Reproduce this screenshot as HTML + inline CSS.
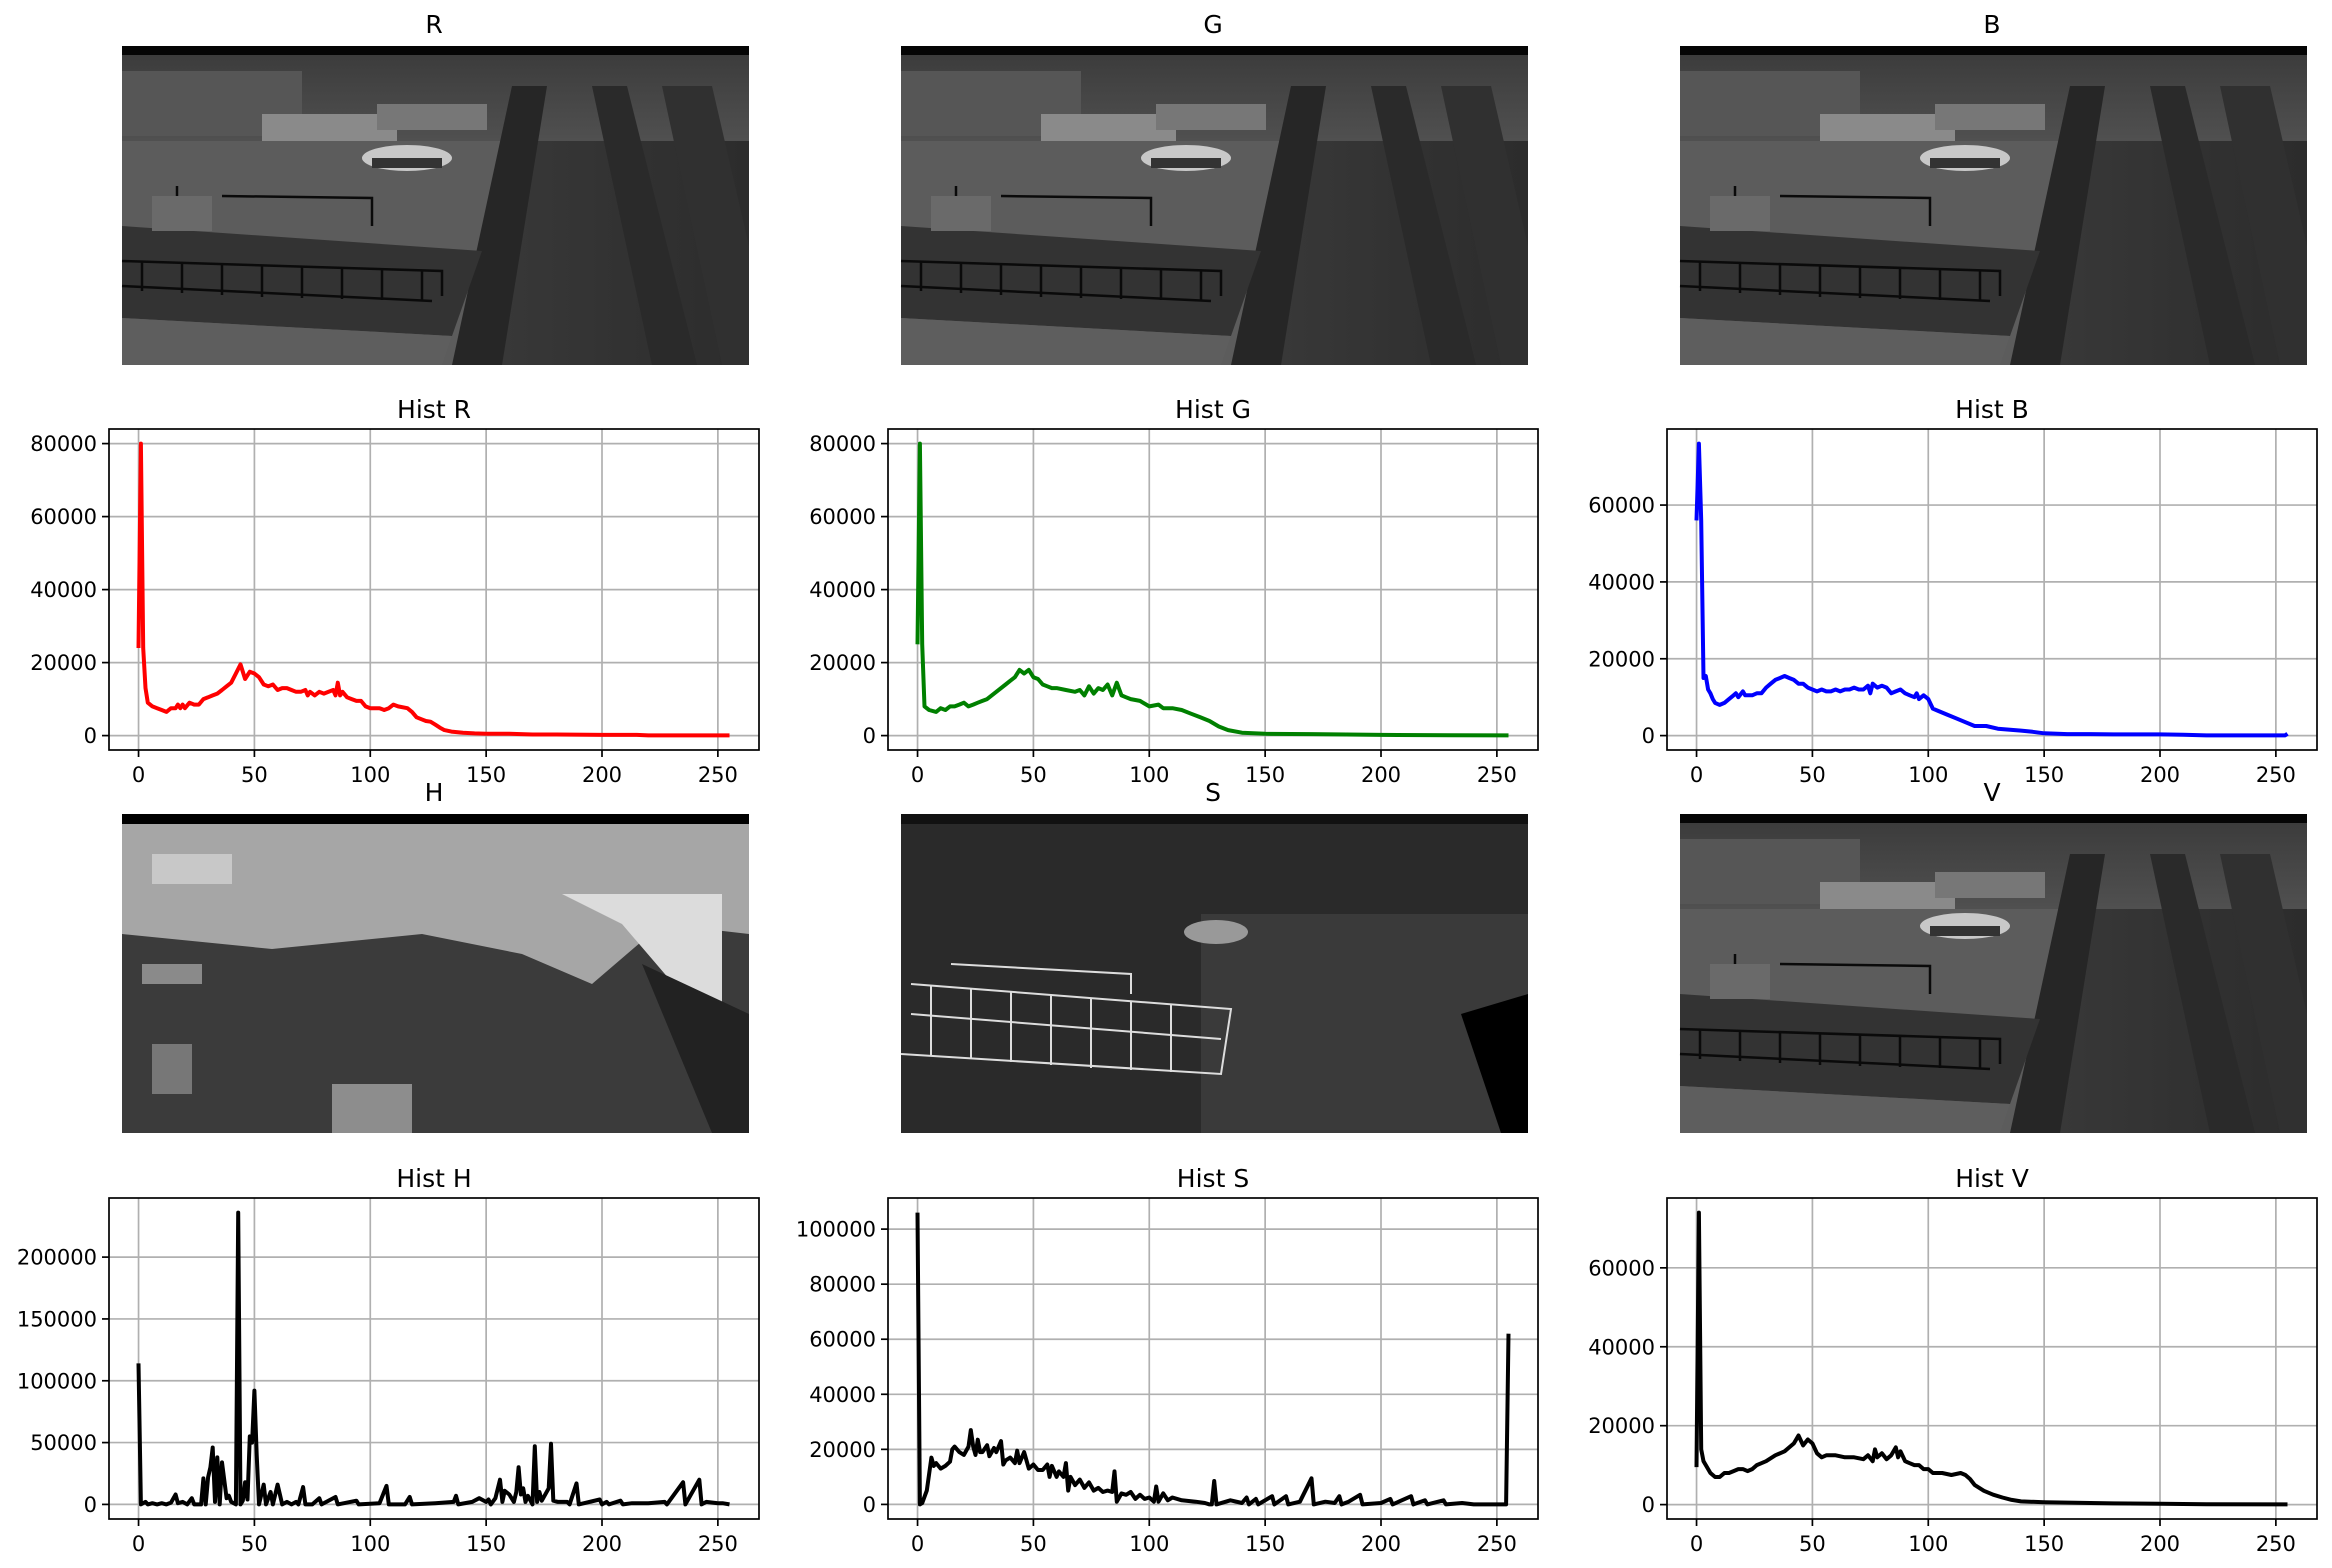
<!DOCTYPE html>
<html><head><meta charset="utf-8"><style>
html,body{margin:0;padding:0;background:#fff;}
svg{display:block;font-family:"DejaVu Sans","Liberation Sans",sans-serif;}
</style></head><body>
<svg id="fig" width="2332" height="1568" viewBox="0 0 2332 1568" xmlns="http://www.w3.org/2000/svg">
<defs>
<linearGradient id="topg" x1="0" y1="0" x2="0" y2="1"><stop offset="0" stop-color="#3a3a3a"/><stop offset="1" stop-color="#505050"/></linearGradient>
<linearGradient id="rg" x1="0" y1="0" x2="1" y2="0"><stop offset="0" stop-color="#4a4a4a"/><stop offset="1" stop-color="#2c2c2c"/></linearGradient>
<g id="scene">
<rect x="0" y="0" width="627" height="319" fill="url(#rg)"/>
<rect x="0" y="0" width="627" height="95" fill="url(#topg)"/>
<rect x="0" y="25" width="180" height="65" fill="#565656"/>
<rect x="140" y="68" width="135" height="30" fill="#8a8a8a"/>
<rect x="255" y="58" width="110" height="26" fill="#777"/>
<polygon points="0,95 390,95 340,319 0,319" fill="#5c5c5c"/>
<polygon points="390,40 425,40 380,319 330,319" fill="#262626"/>
<polygon points="470,40 505,40 575,319 530,319" fill="#2a2a2a"/>
<polygon points="540,40 590,40 627,200 627,319 600,319" fill="#303030"/>
<ellipse cx="285" cy="112" rx="45" ry="13" fill="#c8c8c8"/>
<rect x="250" y="112" width="70" height="10" fill="#333"/>
<polygon points="0,180 360,205 330,290 0,272" fill="#333"/>
<polygon points="0,272 330,290 320,319 0,319" fill="#5e5e5e"/>
<g stroke="#0a0a0a" stroke-width="2.5" fill="none">
<polyline points="0,215 320,225 320,250"/><polyline points="0,240 310,255"/>
<polyline points="100,150 250,152 250,180"/><polyline points="55,140 55,175"/>
<line x1="20" y1="215" x2="20" y2="245"/><line x1="60" y1="217" x2="60" y2="247"/><line x1="100" y1="218" x2="100" y2="249"/><line x1="140" y1="219" x2="140" y2="251"/><line x1="180" y1="220" x2="180" y2="252"/><line x1="220" y1="221" x2="220" y2="253"/><line x1="260" y1="223" x2="260" y2="254"/><line x1="300" y1="224" x2="300" y2="255"/>
</g>
<rect x="30" y="150" width="60" height="35" fill="#6a6a6a"/>
<rect x="0" y="0" width="627" height="9" fill="#050505"/>
</g>
<g id="himg">
<rect x="0" y="0" width="627" height="319" fill="#3b3b3b"/>
<polygon points="0,10 627,10 627,120 540,110 470,170 400,140 300,120 150,135 0,120" fill="#a6a6a6"/>
<polygon points="440,80 600,80 600,200 560,180 500,110" fill="#dcdcdc"/>
<rect x="30" y="40" width="80" height="30" fill="#c8c8c8"/>
<rect x="20" y="150" width="60" height="20" fill="#8a8a8a"/>
<rect x="30" y="230" width="40" height="50" fill="#777"/>
<rect x="210" y="270" width="80" height="49" fill="#8d8d8d"/>
<polygon points="520,150 627,200 627,319 590,319" fill="#222"/>
<rect x="0" y="0" width="627" height="10" fill="#000"/>
</g>
<g id="simg">
<rect x="0" y="0" width="627" height="319" fill="#2a2a2a"/>
<rect x="300" y="100" width="327" height="219" fill="#3a3a3a"/>
<g stroke="#ddd" stroke-width="2" fill="none">
<polyline points="10,170 330,195 320,260 0,240"/><polyline points="10,200 320,225"/><polyline points="50,150 230,160 230,180"/>
<line x1="30" y1="172" x2="30" y2="242"/><line x1="70" y1="175" x2="70" y2="245"/><line x1="110" y1="178" x2="110" y2="248"/><line x1="150" y1="181" x2="150" y2="251"/><line x1="190" y1="184" x2="190" y2="254"/><line x1="230" y1="187" x2="230" y2="256"/><line x1="270" y1="190" x2="270" y2="258"/>
</g>
<ellipse cx="315" cy="118" rx="32" ry="12" fill="#999"/>
<polygon points="560,200 627,180 627,319 600,319" fill="#000"/>
<rect x="0" y="0" width="627" height="10" fill="#111"/>
</g>
</defs>
<g id="images"></g>
<g id="charts"></g>
</svg>
<script>
// ---- data (bin index arrays + count arrays) ----
const rBins=[0,1,2,3,4,6,8,10,12,14,16,17,18,19,20,22,24,26,28,30,32,34,36,38,40,42,44,46,48,50,52,54,56,58,60,62,64,66,68,70,72,73,74,76,78,80,82,84,85,86,87,88,90,92,94,96,98,100,104,106,108,110,112,116,118,120,122,124,126,128,130,132,135,140,145,150,160,170,180,200,215,220,255];
const rCounts=[24,80,24,13,9,8,7.5,7,6.5,7.5,7.5,8.5,7.5,8.5,7.5,9,8.5,8.5,10,10.5,11,11.5,12.5,13.5,14.5,17,19.5,15.5,17.5,17,16,14,13.5,14,12.5,13,13,12.5,12,12,12.5,11,12,11,12,11.5,12,12.5,11,14.5,11,12,10.5,10,9.5,9.5,8,7.5,7.5,7,7.5,8.5,8,7.5,6.5,5,4.5,4,3.8,3,2.2,1.5,1.1,0.8,0.6,0.5,0.5,0.3,0.3,0.2,0.2,0.05,0.05];
const gBins=[0,1,2,3,5,8,10,12,14,16,18,20,22,24,26,28,30,34,38,40,42,44,46,48,50,52,54,56,58,60,64,68,70,72,74,76,78,80,82,84,86,88,90,92,96,100,104,106,110,114,118,122,126,130,134,140,150,170,200,230,255];
const gCounts=[25,80,25,8,7,6.5,7.5,7,8,8,8.5,9,8,8.5,9,9.5,10,12,14,15,16,18,17,18,16,15.5,14,13.5,13,13,12.5,12,12.5,11,13.5,11.5,13,12.5,14,11,14.5,11,10.5,10,9.5,8,8.5,7.5,7.5,7,6,5,4,2.5,1.5,0.8,0.5,0.4,0.2,0.1,0.05];
const bBins=[0,1,2,3,4,5,6,7,8,10,12,14,16,17,18,20,21,24,26,28,30,32,34,36,38,40,42,44,46,48,50,52,54,56,58,60,62,64,66,68,70,72,74,75,76,78,80,82,84,86,88,90,92,94,95,96,98,100,102,104,108,112,116,120,125,130,140,145,150,160,170,180,200,210,220,254,255];
const bCounts=[56,76,56,15,15.5,12,11,9.5,8.5,8,8.5,9.5,10.5,11,10,11.5,10.5,10.5,11,11,12.5,13.5,14.5,15,15.5,15,14.5,13.5,13.5,12.5,12,11.5,12,11.5,11.5,12,11.5,12,12,12.5,12,12,13,11,13.5,12.5,13,12.5,11,11.5,12,11,10.5,10,11,9.5,10.5,9.5,7,6.5,5.5,4.5,3.5,2.5,2.5,1.8,1.3,1,0.6,0.4,0.4,0.3,0.3,0.2,0.05,0.05,0.5];
const hBins=[0,1,3,4,6,8,10,12,14,16,17,19,21,23,24,27,28,29,30,31,32,33,34,35,36,38,39,40,42,43,44,45,46,47,48,49,50,51,52,54,55,57,58,60,61,62,64,66,68,69,71,72,75,78,79,85,86,94,95,104,107,108,115,117,118,128,136,137,138,144,147,150,151,152,154,156,157,158,160,162,163,164,165,166,167,168,170,171,172,173,174,177,178,179,181,185,186,189,190,199,200,202,203,208,209,213,220,227,228,235,236,242,243,245,250,252,255];
const hCounts=[114,0,2,0,1,0,1,0,1.5,8,1,2,0,5,0,0,21,0,22,30,46,2,38,0,34,5,7,2,0,236,0,3,18,4,55,50,92,40,0,16,0,10,0,16,8,0,2,0,2,0,14,0,0,5,0,6,0,3,0,1,15,0,0,6,0,1,2,7,0,2,5,2,4,0,5,20,2,11,8,2,10,30,8,13,2,7,0,47,2,10,3,13,49,3,2,2,0,17,0,4,0,2,0,3,0,1,1,2,0,18,0,20,0,2,1,1,0];
const sBins=[0,1,2,4,6,7,8,10,12,14,15,16,18,20,22,23,24,25,26,27,28,30,31,33,34,36,37,38,40,42,43,44,46,48,50,52,54,56,57,58,60,61,63,64,65,66,68,70,72,74,76,78,80,82,84,85,86,88,90,92,94,96,98,100,102,103,104,106,108,110,114,120,124,126,127,128,129,135,140,142,143,146,147,153,154,159,160,165,170,171,176,180,182,183,186,191,192,200,204,205,213,214,219,220,227,228,235,240,254,255];
const sCounts=[106,0,0.5,5,17,14,15,13,14,15.5,20,21,19,18,21,27,21,18,23.5,19,19,21.5,17.5,20.5,19,23,14.5,16,17,15,19.5,15,19,13,14.5,12.5,12.5,14.5,10,14,10,12,10,15,5,10,7,9,6,8,5,6,4.5,5,4.5,12,1,4,3.5,4.5,2,3.5,2,2.5,1,6.5,1,4,1.5,2.5,1.5,1,0.5,0,0,8.5,0,1.5,0.5,2.5,0,2,0,3,0,3,0,1,9.5,0,1,0.5,3,0,1,3.5,0,0.5,2,0,3,0,1.5,0,1.5,0,0.5,0,0,62];
const vBins=[0,1,2,3,4,6,8,10,12,14,16,18,20,22,24,26,28,30,34,38,40,42,44,46,48,50,52,54,56,60,64,68,72,74,76,77,78,80,82,84,86,87,88,90,92,94,96,98,100,102,106,110,114,116,118,120,124,128,132,136,140,150,160,180,200,220,255];
const vCounts=[9.5,74,14,11,10,8,7,7,8,8,8.5,9,9,8.5,9,10,10.5,11,12.5,13.5,14.5,15.5,17.5,15,16.5,15.5,13,12,12.5,12.5,12,12,11.5,12.5,11,14,12,13,11.5,12.5,14.5,12,13.5,11,10.5,10,10,9,9,8,8,7.5,8,7.5,6.5,5,3.5,2.5,1.8,1.2,0.8,0.6,0.5,0.3,0.2,0.1,0.05];
const xTicks=[0,50,100,150,200,250];
const ticksR=[0,20000,40000,60000,80000];
const ticksB=[0,20000,40000,60000];
const ticksH=[0,50000,100000,150000,200000];
const ticksS=[0,20000,40000,60000,80000,100000];
const imageTitles=["R","G","B","H","S","V"];

const NS="http://www.w3.org/2000/svg";
function mk(tag,attrs,parent){const e=document.createElementNS(NS,tag);for(const k in attrs)e.setAttribute(k,attrs[k]);parent.appendChild(e);return e;}
const imgs=document.getElementById('images');
const charts=document.getElementById('charts');
const colX=[109,888,1667], AW=650;

// images
const imgDefs=[["#scene",0,0],["#scene",1,0],["#scene",2,0],["#himg",0,1],["#simg",1,1],["#scene",2,1]];
imgDefs.forEach((d,i)=>{
  const x=colX[d[1]]+13, y=d[2]?814:46;
  const g=mk('g',{},imgs);
  
  
  mk('use',{href:d[0],x:x,y:y},g);
  const t=mk('text',{x:colX[d[1]]+AW/2,y:d[2]?801:33,'text-anchor':'middle','font-size':25,fill:'#000'},g);
  t.textContent=imageTitles[i];
  
  
});

function chart(title,bins,counts,ticks,color,col,top){
  const x0=colX[col], y0=top, h=321;
  const g=mk('g',{},charts);
  
  
  const vals=counts.map(v=>v*1000);
  const mx=Math.max(...vals), mn=Math.min(...vals), R=mx-mn;
  const ymin=mn-0.05*R, ymax=mx+0.05*R;
  const xs=v=>x0+(v+12.75)/280.5*AW;
  const ys=v=>y0+h-(v-ymin)/(ymax-ymin)*h;
  xTicks.forEach(t=>{
    const l=mk('line',{x1:xs(t),x2:xs(t),y1:y0,y2:y0+h,stroke:'#b0b0b0','stroke-width':1.7},g);
    
    
    mk('line',{x1:xs(t),x2:xs(t),y1:y0+h,y2:y0+h+7,stroke:'#000','stroke-width':1.7},g);
    const tx=mk('text',{x:xs(t),y:y0+h+32,'text-anchor':'middle','font-size':21},g);
    tx.textContent=t;
    
    
  });
  ticks.forEach(t=>{
    const l=mk('line',{x1:x0,x2:x0+AW,y1:ys(t),y2:ys(t),stroke:'#b0b0b0','stroke-width':1.7},g);
    
    
    mk('line',{x1:x0-7,x2:x0,y1:ys(t),y2:ys(t),stroke:'#000','stroke-width':1.7},g);
    const tx=mk('text',{x:x0-12,y:ys(t)+7.5,'text-anchor':'end','font-size':21},g);
    tx.textContent=t;
    
    
  });
  const p=mk('polyline',{points:bins.map((b,i)=>xs(b).toFixed(1)+','+ys(vals[i]).toFixed(1)).join(' '),fill:'none',stroke:color,'stroke-width':4,'stroke-linejoin':'round'},g);
  
  
  const f=mk('rect',{x:x0,y:y0,width:AW,height:h,fill:'none',stroke:'#000','stroke-width':1.7},g);
  
  
  const tt=mk('text',{x:x0+AW/2,y:y0-11,'text-anchor':'middle','font-size':25},g);
  tt.textContent=title;
  
  
}
chart('Hist R',rBins,rCounts,ticksR,'#ff0000',0,429);
chart('Hist G',gBins,gCounts,ticksR,'#008000',1,429);
chart('Hist B',bBins,bCounts,ticksB,'#0000ff',2,429);
chart('Hist H',hBins,hCounts,ticksH,'#000000',0,1198);
chart('Hist S',sBins,sCounts,ticksS,'#000000',1,1198);
chart('Hist V',vBins,vCounts,ticksB,'#000000',2,1198);
</script>
</body></html>
